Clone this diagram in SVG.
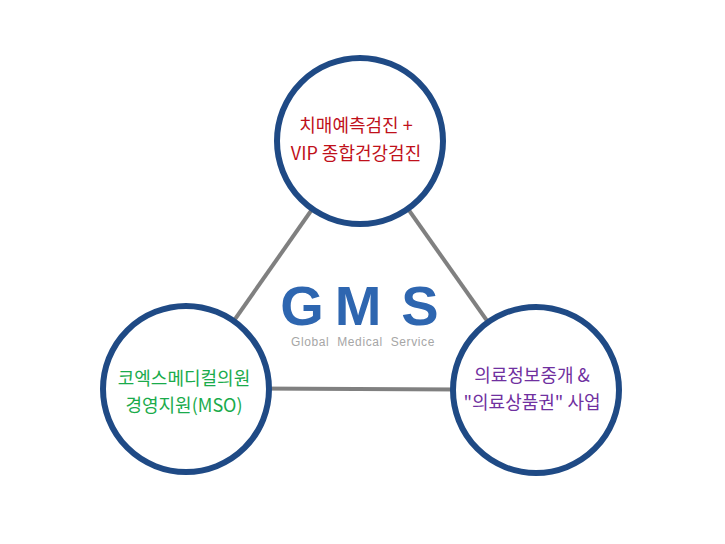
<svg xmlns="http://www.w3.org/2000/svg" width="725" height="544" viewBox="0 0 725 544">
<style>
.node circle{fill:#fff;stroke:#1f4a85;stroke-width:6}
.conn line{stroke:#808080;stroke-width:4}
.lbl{font-family:"Noto Sans CJK KR","Liberation Sans",sans-serif;font-size:18px;text-anchor:middle}
.gms{font-family:"Liberation Sans",Arial,sans-serif;font-size:56px;font-weight:bold;fill:#2e66b0;text-anchor:middle}
.sub{font-family:"Liberation Sans",Arial,sans-serif;font-size:12px;fill:#a6a6a6;text-anchor:middle;letter-spacing:0.6px;word-spacing:4px}
</style>
<rect width="725" height="544" fill="#fff"/>
<g id="connectors" class="conn">
<line x1="360" y1="141" x2="186" y2="389"/>
<line x1="360" y1="141" x2="536" y2="390"/>
<line x1="186" y1="388" x2="536" y2="390"/>
</g>
<g id="center">
<text class="gms" x="302" y="325">G</text>
<text class="gms" x="358" y="325">M</text>
<text class="gms" x="420" y="325">S</text>
<text class="sub" x="363" y="346">Global Medical Service</text>
</g>
<g id="node-top" class="node">
<circle cx="360" cy="141" r="83"/>
<text class="lbl" fill="#c0101a" x="356" y="132">치매예측검진 +</text>
<text class="lbl" fill="#c0101a" x="356" y="160">VIP 종합건강검진</text>
</g>
<g id="node-left" class="node">
<circle cx="186" cy="389" r="83"/>
<text class="lbl" fill="#1aab4b" x="184" y="385">코엑스메디컬의원</text>
<text class="lbl" fill="#1aab4b" x="184" y="412">경영지원(MSO)</text>
</g>
<g id="node-right" class="node">
<circle cx="536" cy="390" r="83"/>
<text class="lbl" fill="#7030a0" x="532" y="382">의료정보중개 &amp;</text>
<text class="lbl" fill="#7030a0" x="532" y="409">"의료상품권" 사업</text>
</g>
</svg>
